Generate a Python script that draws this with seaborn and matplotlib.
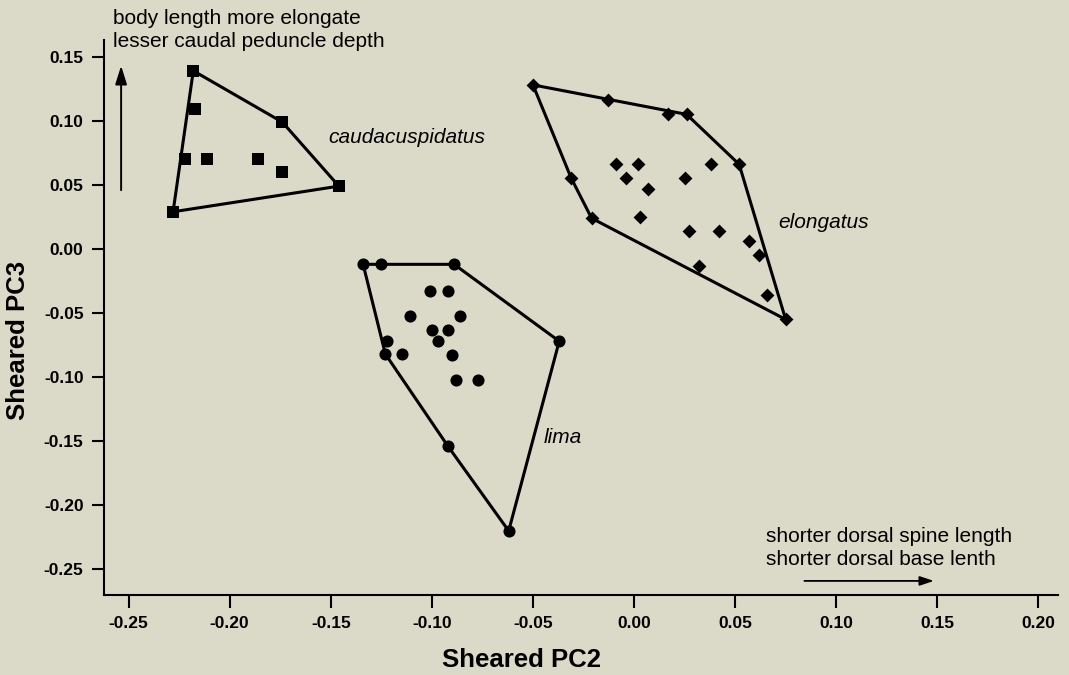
import numpy as np
import pandas as pd
import seaborn as sns
import matplotlib
matplotlib.use("Agg")
from matplotlib import pyplot as plt

# caudacuspidatus (squares)
caud_x = [-0.218, -0.217, -0.222, -0.211, -0.186, -0.174, -0.174, -0.146, -0.228]
caud_y = [0.139, 0.109, 0.070, 0.070, 0.070, 0.099, 0.060, 0.049, 0.029]

# elongatus (diamonds)
elon_x = [-0.050, -0.013, 0.017, 0.026, 0.052, -0.031, -0.021, -0.009, 0.002, -0.004,
          0.007, 0.003, 0.025, 0.038, 0.027, 0.042, 0.057, 0.062, 0.032, 0.066, 0.075]
elon_y = [0.128, 0.116, 0.105, 0.105, 0.066, 0.055, 0.024, 0.066, 0.066, 0.055,
          0.047, 0.025, 0.055, 0.066, 0.014, 0.014, 0.006, -0.005, -0.013, -0.036, -0.055]

# lima (circles)
lima_x = [-0.134, -0.125, -0.089, -0.101, -0.092, -0.111, -0.086, -0.100, -0.092, -0.097,
          -0.122, -0.123, -0.115, -0.090, -0.088, -0.077, -0.037, -0.092, -0.062]
lima_y = [-0.012, -0.012, -0.012, -0.033, -0.033, -0.052, -0.052, -0.063, -0.063, -0.072,
          -0.072, -0.082, -0.082, -0.083, -0.102, -0.102, -0.072, -0.154, -0.220]

species = ["caudacuspidatus", "elongatus", "lima"]
label_pos = {"caudacuspidatus": (-0.151, 0.087),
             "elongatus": (0.0714, 0.021),
             "lima": (-0.0445, -0.147)}
markers = {"caudacuspidatus": "s", "elongatus": "D", "lima": "o"}
msizes = {"caudacuspidatus": 78, "elongatus": 50, "lima": 76}

x_ticks = [-0.25, -0.20, -0.15, -0.10, -0.05, 0.00, 0.05, 0.10, 0.15, 0.20]
y_ticks = [0.15, 0.10, 0.05, 0.00, -0.05, -0.10, -0.15, -0.20, -0.25]

df = pd.concat([
    pd.DataFrame({"x": caud_x, "y": caud_y, "species": "caudacuspidatus"}),
    pd.DataFrame({"x": elon_x, "y": elon_y, "species": "elongatus"}),
    pd.DataFrame({"x": lima_x, "y": lima_y, "species": "lima"}),
])


def convex_hull(pts):
    pts = sorted(set(pts))
    def cross(o, a, b):
        return (a[0] - o[0]) * (b[1] - o[1]) - (a[1] - o[1]) * (b[0] - o[0])
    lower, upper = [], []
    for p in pts:
        while len(lower) >= 2 and cross(lower[-2], lower[-1], p) <= 0:
            lower.pop()
        lower.append(p)
    for p in reversed(pts):
        while len(upper) >= 2 and cross(upper[-2], upper[-1], p) <= 0:
            upper.pop()
        upper.append(p)
    return lower[:-1] + upper[:-1]


sns.set_style("ticks")
bg = "#dbdac8"
plt.rcParams["font.family"] = ["Liberation Sans", "DejaVu Sans"]
plt.rcParams["text.color"] = "black"
plt.rcParams["axes.labelcolor"] = "black"
plt.rcParams["xtick.color"] = "black"
plt.rcParams["ytick.color"] = "black"
plt.rcParams["axes.edgecolor"] = "black"

fig = plt.figure(figsize=(10.69, 6.75), dpi=100)
fig.patch.set_facecolor(bg)
ax = fig.add_axes([0.0976, 0.1185, 0.8921, 0.8222])
ax.set_facecolor(bg)

for sp in species:
    sub = df[df["species"] == sp]
    hull = convex_hull(list(zip(sub["x"], sub["y"])))
    hx = [p[0] for p in hull] + [hull[0][0]]
    hy = [p[1] for p in hull] + [hull[0][1]]
    ax.plot(hx, hy, color="black", lw=2.2, zorder=2, solid_joinstyle="round")
    sns.scatterplot(data=sub, x="x", y="y", marker=markers[sp], s=msizes[sp],
                    color="black", edgecolor="black", linewidth=0, ax=ax,
                    zorder=3, legend=False)
    lx, ly = label_pos[sp]
    ax.text(lx, ly, sp, fontsize=15, style="italic", ha="left", va="center")

ax.set_xlim(-0.262, 0.2097)
ax.set_ylim(-0.270, 0.163)
ax.set_xticks(x_ticks)
ax.set_xticklabels([f"{v:.2f}" for v in x_ticks])
ax.set_yticks(y_ticks)
ax.set_yticklabels([f"{v:.2f}" for v in y_ticks])
ax.tick_params(length=9, width=1.5, pad=6, labelsize=12.5)
for lab in ax.get_xticklabels() + ax.get_yticklabels():
    lab.set_fontweight("bold")

sns.despine(ax=ax)
ax.spines["left"].set_linewidth(1.5)
ax.spines["bottom"].set_linewidth(1.5)

ax.set_xlabel("Sheared PC2", fontsize=18.5, fontweight="bold", va="center", ha="center")
ax.set_ylabel("Sheared PC3", fontsize=18.5, fontweight="bold", va="center", ha="center")
ax.xaxis.set_label_coords(0.437, -0.117)
ax.yaxis.set_label_coords(-0.0905, 0.459)

# direction annotations
ax.text(-0.2575, 0.1709, "body length more elongate\nlesser caudal peduncle depth",
        fontsize=15, ha="left", va="center", linespacing=1.25, clip_on=False)
ax.annotate("", xy=(-0.2537, 0.1451), xytext=(-0.2537, 0.0437),
            arrowprops=dict(arrowstyle="-|>,head_length=0.7,head_width=0.22",
                            lw=1.4, color="black", mutation_scale=16))

ax.text(0.0651, -0.2336, "shorter dorsal spine length\nshorter dorsal base lenth",
        fontsize=15, ha="left", va="center", linespacing=1.25)
ax.annotate("", xy=(0.1497, -0.259), xytext=(0.0829, -0.259),
            arrowprops=dict(arrowstyle="-|>,head_length=0.6,head_width=0.2",
                            lw=1.3, color="black", mutation_scale=14))

fig.savefig("out.png", dpi=100, facecolor=bg)
